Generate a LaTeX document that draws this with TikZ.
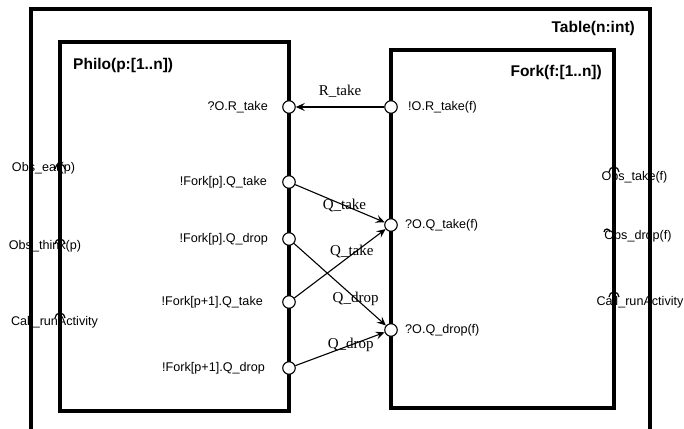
\documentclass[tikz,border=0pt]{standalone}
\usepackage{fontspec}
\setmainfont{Liberation Sans}
\newfontfamily\seriffam{Liberation Serif}
\usetikzlibrary{arrows.meta}
\begin{document}
\begin{tikzpicture}[x=1pt,y=-1pt,
  box/.style={line width=4pt,line join=miter},
  port/.style={circle,draw,fill=white,line width=1.1pt,minimum size=12.5pt,inner sep=0pt},
  plabel/.style={font=\fontsize{12.6}{14}\selectfont,inner sep=0pt},
  title/.style={font=\bfseries\fontsize{15.5}{18}\selectfont,inner sep=0pt},
  conn/.style={line width=1.1pt,-{Stealth[length=9pt,width=8pt,inset=3.5pt]}},
  clabel/.style={font=\seriffam\fontsize{15}{17}\selectfont,inner sep=0pt},
  obsarc/.style={line width=1.2pt}]
\clip (0,0) rectangle (684,428);
\fill[white] (0,0) rectangle (684,428);
% boxes
\draw[box] (31,9) rectangle (650,470);
\draw[box] (60,42) rectangle (289,411);
\draw[box] (391,50) rectangle (614,408);
% titles
\node[title,anchor=east] (ttable) at (635,28) {Table(n:int)};
\node[title,anchor=west] (tphilo) at (73,65) {Philo(p:[1..n])};
\node[title,anchor=east] (tfork) at (602,72) {Fork(f:[1..n])};
% Philo ports
\node[port] (pRt) at (289,107) {};
\node[port] (pQt) at (289,182) {};
\node[port] (pQd) at (289,239) {};
\node[port] (pQt1) at (289,302) {};
\node[port] (pQd1) at (289,368) {};
\node[plabel,anchor=east] (lpRt) at (268,107) {?O.R\_take};
\node[plabel,anchor=east] (lpQt) at (267,182) {!Fork[p].Q\_take};
\node[plabel,anchor=east] (lpQd) at (268,239) {!Fork[p].Q\_drop};
\node[plabel,anchor=east] (lpQt1) at (263,302) {!Fork[p+1].Q\_take};
\node[plabel,anchor=east] (lpQd1) at (265,368) {!Fork[p+1].Q\_drop};
% Fork ports
\node[port] (fRt) at (391,107) {};
\node[port] (fQt) at (391,225) {};
\node[port] (fQd) at (391,330) {};
\node[plabel,anchor=west] (lfRt) at (408,107) {!O.R\_take(f)};
\node[plabel,anchor=west] (lfQt) at (405,225) {?O.Q\_take(f)};
\node[plabel,anchor=west] (lfQd) at (405,330) {?O.Q\_drop(f)};
% observation arcs, Philo
\draw[obsarc] (55,169) arc[start angle=180,end angle=360,radius=5];
\draw[obsarc] (55,244) arc[start angle=180,end angle=360,radius=5];
\draw[obsarc] (55,318) arc[start angle=180,end angle=360,radius=5];
\node[plabel] (oeat) at (43.5,168) {Obs\_eat(p)};
\node[plabel] (othink) at (45,246) {Obs\_think(p)};
\node[plabel] (ocall) at (54.5,322) {Call\_runActivity};
% observation arcs, Fork
\draw[obsarc] (609,172) arc[start angle=180,end angle=360,radius=5];
\draw[obsarc] (604,232) arc[start angle=180,end angle=360,radius=3];
\draw[obsarc] (609,297) arc[start angle=180,end angle=360,radius=5];
\node[plabel] (otake) at (634.5,177) {Obs\_take(f)};
\node[plabel] (odrop) at (638,236) {Obs\_drop(f)};
\node[plabel] (fcall) at (640,302) {Call\_runActivity};
% connectors
\draw[conn] (fRt) -- node[clabel,yshift=16pt]{R\_take} (pRt);
\draw[conn] (pQt) -- node[clabel,pos=0.55]{Q\_take} (fQt);
\draw[conn] (pQt1) -- node[clabel,pos=0.63,yshift=3pt]{Q\_take} (fQt);
\draw[conn] (pQd) -- node[clabel,pos=0.67]{Q\_drop} (fQd);
\draw[conn] (pQd1) -- node[clabel,pos=0.62]{Q\_drop} (fQd);
\end{tikzpicture}
\end{document}
